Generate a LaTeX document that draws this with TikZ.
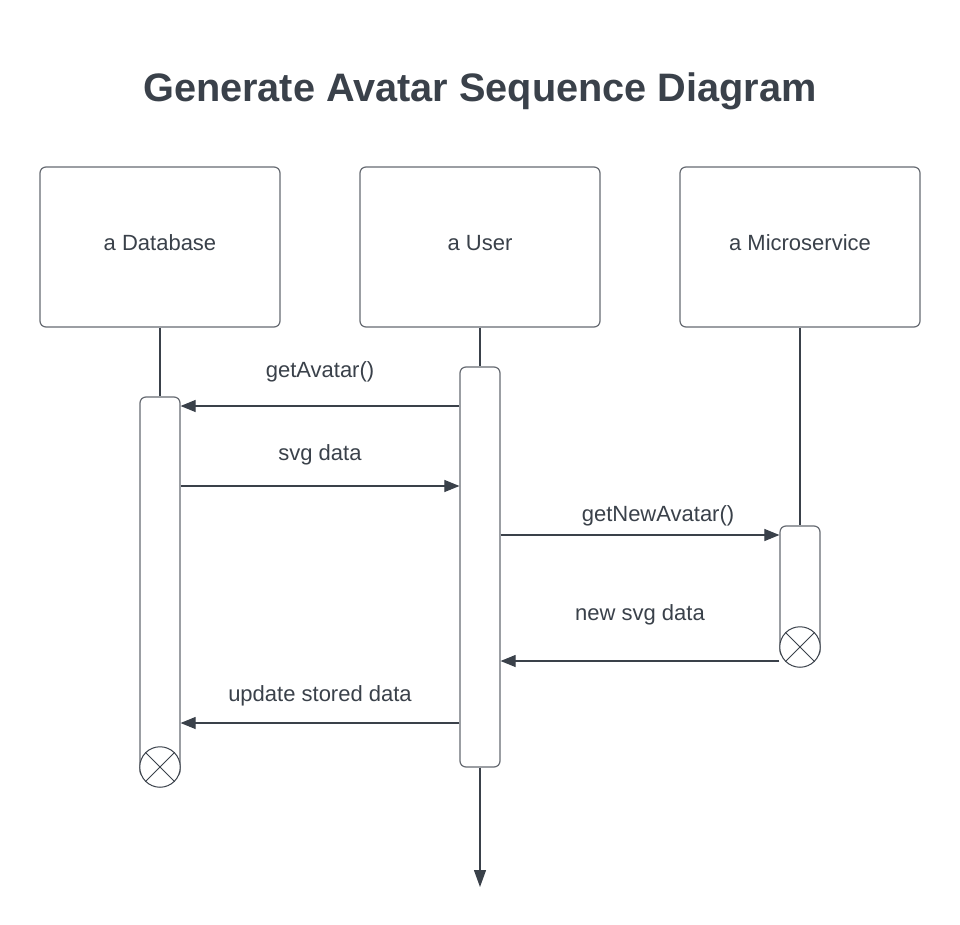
\documentclass[tikz,border=0pt]{standalone}
\usepackage{fontspec}
\setmainfont{Liberation Sans}
\usetikzlibrary{arrows.meta}
\definecolor{txt}{HTML}{3A414A}
\definecolor{bord}{HTML}{666B72}
\begin{document}
\begin{tikzpicture}[x=1pt,y=-1pt,
  actor/.style={draw=bord,line width=1.2pt,rounded corners=6pt,minimum width=240pt,minimum height=160pt,inner sep=0pt,text=txt,font=\fontsize{22}{26}\selectfont},
  act/.style={draw=bord,line width=1.2pt,rounded corners=6pt,fill=white,minimum width=40pt,inner sep=0pt},
  endx/.style={circle,draw=txt,line width=1pt,fill=white,minimum size=40.5pt,inner sep=0pt},
  life/.style={draw=txt,line width=1.2pt},
  msg/.style={draw=txt,line width=1.1pt,-{Triangle[length=15pt,width=12pt]}},
  lbl/.style={text=txt,font=\fontsize{22}{26}\selectfont,inner sep=0pt}]
\useasboundingbox[fill=white] (0,0) rectangle (960,925);
\node[text=txt,font=\fontsize{39.7}{46}\selectfont\bfseries] (title) at (480,91) {Generate Avatar Sequence Diagram};
% actors
\node[actor] (db) at (160,247) {};
\node[text=txt,font=\fontsize{22}{26}\selectfont] (dbt) at (160,243) {a Database};
\node[actor] (us) at (480,247) {};
\node[text=txt,font=\fontsize{22}{26}\selectfont] (ust) at (480,243) {a User};
\node[actor] (ms) at (800,247) {};
\node[text=txt,font=\fontsize{22}{26}\selectfont] (mst) at (800,243) {a Microservice};
% activation boxes
\node[act,minimum height=380pt] (dba) at (160,587) {};
\node[act,minimum height=400pt] (usa) at (480,567) {};
\node[act,minimum height=131pt] (msa) at (800,591.5) {};
% end markers
\node[endx] (dbx) at (160,767) {};
\draw[txt,line width=1pt] (dbx.north west) -- (dbx.south east) (dbx.north east) -- (dbx.south west);
\node[endx] (msx) at (800,647) {};
\draw[txt,line width=1pt] (msx.north west) -- (msx.south east) (msx.north east) -- (msx.south west);
% lifelines
\draw[life] (db.south) -- (dba.north);
\draw[life] (us.south) -- (usa.north);
\draw[life] (ms.south) -- (msa.north);
\coordinate (usend) at (480,887);
\draw[life,-{Triangle[length=17pt,width=12pt]}] (usa.south) -- (usend);
% messages
\draw[msg] (usa.west |- 0,406) -- (dba.east |- 0,406);
\node[lbl] (m1) at (320,372) {getAvatar()};
\draw[msg] (dba.east |- 0,486) -- (usa.west |- 0,486);
\node[lbl] (m2) at (320,455) {svg data};
\draw[msg] (usa.east |- 0,535) -- (msa.west |- 0,535);
\node[lbl] (m3) at (658,516) {getNewAvatar()};
\draw[msg] (msa.west |- 0,661) -- (usa.east |- 0,661);
\node[lbl] (m4) at (640,615) {new svg data};
\draw[msg] (usa.west |- 0,723) -- (dba.east |- 0,723);
\node[lbl] (m5) at (320,696) {update stored data};
\end{tikzpicture}
\end{document}
